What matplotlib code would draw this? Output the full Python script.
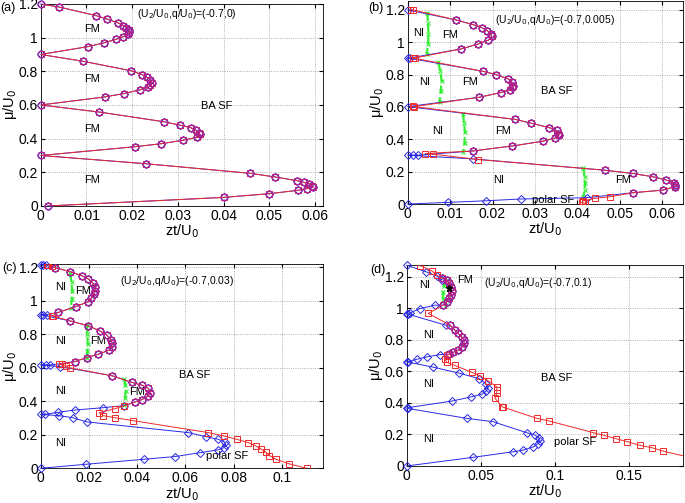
import matplotlib
matplotlib.use('Agg')
import matplotlib.pyplot as plt
import numpy as np
from matplotlib.ticker import FormatStrFormatter

plt.rcParams['font.family'] = ['Liberation Sans', 'DejaVu Sans']

# ---------------- panel (a): all boundaries coincide ----------------
lobes_a = np.array([
    (0, 1.2), (0.004, 1.182), (0.0121, 1.131), (0.0144, 1.111), (0.0168, 1.089), (0.0181, 1.072),
    (0.0187, 1.06), (0.0192, 1.046), (0.0194, 1.032), (0.019, 1.02), (0.0181, 1.006), (0.0164, 0.989),
    (0.0138, 0.969), (0.0104, 0.947), (0, 0.9),
    (0.0092, 0.86), (0.0198, 0.803), (0.0221, 0.781), (0.0232, 0.765), (0.024, 0.749), (0.0243, 0.733),
    (0.024, 0.72), (0.0235, 0.706), (0.0217, 0.69), (0.0182, 0.668), (0.0141, 0.648), (0, 0.6),
    (0.0128, 0.558), (0.027, 0.5), (0.0305, 0.48), (0.0328, 0.465), (0.034, 0.449), (0.0345, 0.433),
    (0.0348, 0.427), (0.0341, 0.407), (0.031, 0.39), (0.0264, 0.37), (0.0206, 0.352), (0, 0.3),
    (0.023, 0.251), (0.0458, 0.194), (0.0513, 0.172), (0.0561, 0.15), (0.0576, 0.14), (0.0587, 0.13),
    (0.0593, 0.12), (0.0596, 0.113), (0.0582, 0.103), (0.0562, 0.093), (0.05, 0.073), (0.04, 0.051),
    (0.0015, 0)])

# ---------------- panel (b) ----------------
fm1_b = [(0.0114, 1.138), (0.0155, 1.108), (0.0174, 1.091), (0.0188, 1.071), (0.0196, 1.05),
         (0.0198, 1.036), (0.019, 1.013), (0.0166, 0.989), (0.0125, 0.958)]
fm2_b = [(0.0178, 0.82), (0.0208, 0.8), (0.0237, 0.773), (0.0245, 0.753), (0.0249, 0.732),
         (0.0247, 0.722), (0.0241, 0.706), (0.0219, 0.689), (0.0169, 0.66)]
fm3_b = [(0.0254, 0.523), (0.029, 0.5), (0.0334, 0.472), (0.0351, 0.455), (0.0355, 0.435),
         (0.0357, 0.427), (0.0348, 0.408), (0.0318, 0.388), (0.0247, 0.359), (0.0154, 0.328)]
fm4_b = [(0.0465, 0.209), (0.053, 0.189), (0.0579, 0.168), (0.061, 0.148), (0.0628, 0.131),
         (0.063, 0.117), (0.0629, 0.107), (0.0602, 0.086), (0.0532, 0.07)]
blue_b = ([(0, 1.2)] + fm1_b + [(0.0005, 0.903), (0, 0.903)] + fm2_b + [(0, 0.602)] + fm3_b
          + [(0.0024, 0.302), (0.0012, 0.302), (0, 0.302), (0.0153, 0.279)] + fm4_b
          + [(0.0422, 0.039), (0.0266, 0.031), (0.0184, 0.02), (0.0096, 0.01), (0, 0)])
red_b = ([(0.0005, 1.2), (0.0012, 1.2)] + fm1_b + [(0.0017, 0.903), (0.0012, 0.903)] + fm2_b
         + [(0.0015, 0.602), (0.0012, 0.603)] + fm3_b + [(0.0041, 0.312), (0.006, 0.308), (0.0166, 0.275)]
         + fm4_b + [(0.0477, 0.045), (0.0441, 0.035), (0.0414, 0.02), (0.041, 0.01), (0.0418, 0.004)])
green_b = [
    [(0.0046, 1.183), (0.0048, 1.12), (0.0049, 1.05), (0.0048, 0.99), (0.0045, 0.927)],
    [(0.0072, 0.876), (0.0077, 0.82), (0.008, 0.763), (0.0078, 0.70), (0.0075, 0.63)],
    [(0.013, 0.558), (0.0133, 0.50), (0.0135, 0.445), (0.0134, 0.38), (0.0131, 0.322)],
    [(0.0414, 0.22), (0.0417, 0.17), (0.0418, 0.127), (0.0417, 0.085), (0.0414, 0.045)]]

# ---------------- panel (c) ----------------
fm1_c = [(0.0059, 1.198), (0.0122, 1.174), (0.017, 1.15), (0.0198, 1.13), (0.0215, 1.108),
         (0.0226, 1.085), (0.0226, 1.059), (0.0221, 1.039), (0.0209, 1.015), (0.0198, 0.995),
         (0.0145, 0.965), (0.0073, 0.931)]
fm2_c = [(0.0122, 0.88), (0.0195, 0.852), (0.0246, 0.82), (0.0274, 0.796), (0.0292, 0.766),
         (0.0297, 0.746), (0.0295, 0.726), (0.0284, 0.706), (0.0239, 0.681), (0.0191, 0.661),
         (0.0142, 0.637)]
fm3_c = [(0.0295, 0.553), (0.0378, 0.513), (0.0419, 0.497), (0.0447, 0.477), (0.0454, 0.452),
         (0.0445, 0.43), (0.042, 0.41), (0.0392, 0.396)]
blue_c = ([(0, 1.214), (0.001, 1.214), (0.002, 1.214)] + fm1_c
          + [(0.0025, 0.917), (0.001, 0.917), (0, 0.917)] + fm2_c
          + [(0.004, 0.617), (0.002, 0.617), (0, 0.617), (0.008, 0.607)] + fm3_c
          + [(0.0347, 0.374), (0.026, 0.362), (0.0142, 0.348), (0.0071, 0.334), (0.0018, 0.322),
             (0, 0.322), (0.0077, 0.314), (0.0133, 0.302), (0.0191, 0.277), (0.0613, 0.213),
             (0.0686, 0.189), (0.0737, 0.173), (0.0765, 0.155), (0.0768, 0.139), (0.076, 0.123),
             (0.0735, 0.11), (0.0661, 0.093), (0.0557, 0.07), (0.0429, 0.054), (0.0188, 0.024), (0, 0)])
red_c = ([(0.0025, 1.214), (0.0032, 1.214), (0.0046, 1.21)] + fm1_c
         + [(0.0052, 0.911), (0.0046, 0.911)] + fm2_c
         + [(0.0076, 0.621), (0.0087, 0.621), (0.0105, 0.612), (0.0122, 0.6)] + fm3_c
         + [(0.0347, 0.374), (0.0308, 0.356), (0.0243, 0.332), (0.026, 0.314), (0.0308, 0.302),
            (0.0385, 0.284), (0.0696, 0.213), (0.0761, 0.193), (0.0813, 0.173), (0.0862, 0.153),
            (0.0893, 0.133), (0.0914, 0.115), (0.0934, 0.096), (0.0949, 0.076), (0.0976, 0.054),
            (0.1032, 0.026), (0.1104, 0)])
green_c = [
    [(0.0122, 1.164), (0.0128, 1.11), (0.0131, 1.06), (0.0129, 1.01), (0.0125, 0.96)],
    [(0.0191, 0.856), (0.0194, 0.80), (0.0195, 0.74), (0.0194, 0.70), (0.0191, 0.661)],
    [(0.0347, 0.533), (0.0351, 0.495), (0.0352, 0.46), (0.0351, 0.42), (0.0347, 0.38)]]

# ---------------- panel (d) ----------------
fm1_d = [(0.024, 1.19), (0.027, 1.18), (0.0287, 1.158), (0.0296, 1.137), (0.0303, 1.109),
         (0.0299, 1.084), (0.0287, 1.063), (0.027, 1.041), (0.0247, 1.02)]
fm2_d = [(0.0292, 0.893), (0.0325, 0.861), (0.0348, 0.84), (0.037, 0.819), (0.0385, 0.798),
         (0.0388, 0.777), (0.0375, 0.756), (0.0348, 0.735), (0.0315, 0.72), (0.0287, 0.708)]
blue_d = ([(0, 1.272), (0.013, 1.231), (0.0206, 1.203), (0.0236, 1.178)] + fm1_d
          + [(0.0191, 1.019), (0.009, 0.998), (0.0022, 0.97), (0.001, 0.965), (0, 0.965), (0.0265, 0.892)]
          + fm2_d
          + [(0.0224, 0.706), (0.0135, 0.691), (0.0067, 0.676), (0.0011, 0.662), (0, 0.66),
             (0.018, 0.626), (0.0355, 0.588), (0.049, 0.553), (0.0535, 0.52), (0.055, 0.495),
             (0.0535, 0.475), (0.051, 0.456), (0.0435, 0.438), (0.0308, 0.412), (0.0011, 0.37),
             (0, 0.366), (0.0404, 0.302), (0.058, 0.281), (0.0809, 0.211), (0.0865, 0.196),
             (0.0893, 0.176), (0.0898, 0.159), (0.0887, 0.142), (0.0853, 0.121), (0.0782, 0.1),
             (0.0718, 0.09), (0.0449, 0.055), (0, 0)])
red_d = ([(0.009, 1.27), (0.0168, 1.238), (0.0202, 1.21)] + fm1_d
         + [(0.0146, 0.967), (0.0292, 0.893)] + fm2_d
         + [(0.027, 0.703), (0.0258, 0.678), (0.027, 0.657), (0.0325, 0.637), (0.0438, 0.594),
            (0.0494, 0.572), (0.055, 0.539), (0.0606, 0.502), (0.0608, 0.48), (0.0606, 0.46),
            (0.0595, 0.429), (0.0645, 0.374), (0.0652, 0.372), (0.0877, 0.302), (0.0961, 0.285),
            (0.1258, 0.211), (0.133, 0.194), (0.141, 0.173), (0.1487, 0.154), (0.1572, 0.131),
            (0.1651, 0.116), (0.1725, 0.095), (0.195, 0.045)])
green_d = [[(0.027, 1.18), (0.0249, 1.14), (0.0243, 1.105), (0.0248, 1.06), (0.0265, 1.02)]]
star_d = (0.0287, 1.125)

BLUE = '#2a2ae6'
RED = '#ee2a2a'
MAG = '#a8219a'
GREEN = '#33ee33'


def draw(ax, blue, red, circles, greens):
    blue = np.array(blue); red = np.array(red); circles = np.array(circles)
    ax.plot(blue[:, 0], blue[:, 1], '-', color=BLUE, lw=0.7, marker='D', ms=3.6,
            mfc='none', mec=BLUE, mew=0.7, clip_on=False, zorder=3)
    ax.plot(red[:, 0], red[:, 1], '-', color=RED, lw=0.7, marker='s', ms=4.2,
            mfc='none', mec=RED, mew=0.7, clip_on=True, zorder=4)
    ax.plot(circles[:, 0], circles[:, 1], 'o', ms=5, mfc='none', mec=MAG, mew=0.8,
            clip_on=False, zorder=5)
    for g in greens:
        g = np.array(g)
        ax.plot(g[:, 0], g[:, 1], '--', color=GREEN, lw=1.6, marker='x', ms=3, mew=0.8, zorder=2)


def style(ax, xlim, ylim, xticks):
    ax.set_xlim(*xlim); ax.set_ylim(*ylim)
    ax.set_xticks(xticks)
    ax.set_yticks(np.arange(0, 1.21, 0.2))
    ax.xaxis.set_major_formatter(FormatStrFormatter('%g'))
    ax.yaxis.set_major_formatter(FormatStrFormatter('%g'))
    ax.grid(True, linestyle=':', color='#999999', lw=0.6)
    ax.tick_params(direction='in', top=True, right=True, labelsize=10, length=3, pad=2)
    ax.set_xlabel('zt/U$_0$', fontsize=10.5, labelpad=0)
    ax.set_ylabel('μ/U$_0$', fontsize=10.5, labelpad=0)
    for s in ax.spines.values():
        s.set_linewidth(0.6)


fig = plt.figure(figsize=(6.85, 5.03), dpi=100)
ax_a = fig.add_axes([0.0594, 0.5905, 0.4121, 0.4016])
ax_b = fig.add_axes([0.5952, 0.5944, 0.4019, 0.4036])
ax_c = fig.add_axes([0.0594, 0.069, 0.4121, 0.4062])
ax_d = fig.add_axes([0.5937, 0.0736, 0.4038, 0.3996])

draw(ax_a, lobes_a, lobes_a, lobes_a, [])
style(ax_a, (0, 0.0617), (0, 1.2), np.arange(0, 0.061, 0.01))
draw(ax_b, blue_b, red_b, fm1_b + fm2_b + fm3_b + fm4_b, green_b)
style(ax_b, (0, 0.0649), (0, 1.255), np.arange(0, 0.061, 0.01))
draw(ax_c, blue_c, red_c, fm1_c + fm2_c + fm3_c, green_c)
style(ax_c, (0, 0.1171), (0, 1.22), [0, 0.02, 0.04, 0.06, 0.08, 0.1])
draw(ax_d, blue_d, red_d, fm1_d + fm2_d, green_d)
style(ax_d, (0, 0.1864), (0, 1.274), [0, 0.05, 0.1, 0.15])
ax_d.plot(*star_d, '*', color='black', ms=5, zorder=6)

fs = 8
tfs = 7.5
# panel (a) labels
for y in (1.05, 0.753, 0.457, 0.156):
    ax_a.text(0.0112, y, 'FM', fontsize=fs, ha='center', va='center')
ax_a.text(0.0385, 0.591, 'BA SF', fontsize=fs, ha='center', va='center')
ax_a.text(0.021, 1.14, '(U$_2$/U$_0$,q/U$_0$)=(-0.7,0)', fontsize=tfs, va='center')

# panel (b) labels
for x, y, s in [(0.0025, 1.06, 'NI'), (0.010, 1.046, 'FM'), (0.0041, 0.753, 'NI'), (0.0148, 0.753, 'FM'),
                (0.0071, 0.449, 'NI'), (0.0225, 0.449, 'FM'), (0.0214, 0.148, 'NI'), (0.0508, 0.148, 'FM'),
                (0.0351, 0.701, 'BA SF'), (0.0342, 0.024, 'polar SF')]:
    ax_b.text(x, y, s, fontsize=fs, ha='center', va='center')
ax_b.text(0.0206, 1.138, '(U$_2$/U$_0$,q/U$_0$)=(-0.7,0.005)', fontsize=tfs, va='center')

# panel (c) labels
for x, y, s in [(0.0083, 1.081, 'NI'), (0.0177, 1.061, 'FM'), (0.0083, 0.762, 'NI'), (0.0239, 0.762, 'FM'),
                (0.0083, 0.464, 'NI'), (0.0401, 0.458, 'FM'), (0.0083, 0.153, 'NI'),
                (0.064, 0.557, 'BA SF'), (0.0775, 0.074, 'polar SF')]:
    ax_c.text(x, y, s, fontsize=fs, ha='center', va='center')
ax_c.text(0.0329, 1.118, '(U$_2$/U$_0$,q/U$_0$)=(-0.7,0.03)', fontsize=tfs, va='center')

# panel (d) labels
for x, y, s in [(0.0123, 1.15, 'NI'), (0.0395, 1.18, 'FM'), (0.0146, 0.83, 'NI'), (0.0146, 0.52, 'NI'),
                (0.0146, 0.169, 'NI'), (0.101, 0.56, 'BA SF'), (0.1134, 0.154, 'polar SF')]:
    ax_d.text(x, y, s, fontsize=fs, ha='center', va='center')
ax_d.text(0.052, 1.158, '(U$_2$/U$_0$,q/U$_0$)=(-0.7,0.1)', fontsize=tfs, va='center')

fig.text(0.0, 0.985, '(a)', fontsize=9, va='center')
fig.text(0.538, 0.984, '(b)', fontsize=9, va='center')
fig.text(0.003, 0.467, '(c)', fontsize=9, va='center')
fig.text(0.540, 0.463, '(d)', fontsize=9, va='center')

fig.savefig('out.png', dpi=100)
